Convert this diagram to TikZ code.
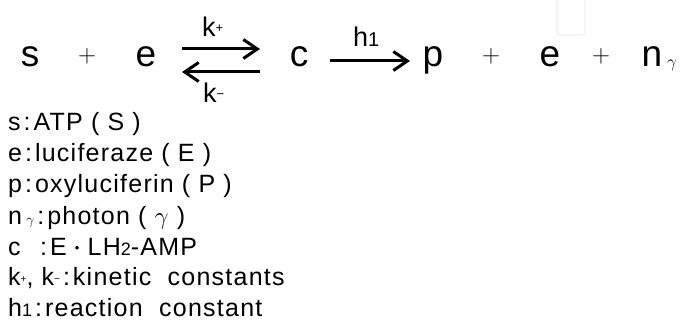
\documentclass[tikz,border=0pt]{standalone}
\usepackage{fontspec}
\setmainfont{Liberation Sans}
\newfontfamily\lgdfont[LetterSpace=5]{Liberation Sans}
\usetikzlibrary{arrows.meta}
\newcommand{\smallsub}[2]{{\fontsize{#1}{#1}\selectfont #2}}
\newcommand{\lcolon}{\hspace{3pt}:\hspace{3pt}}
\tikzset{
	sym/.style={font=\fontsize{37}{37}\selectfont, inner sep=0pt, anchor=base},
	plus/.style={font=\fontsize{27}{27}\selectfont, inner sep=0pt},
	rate/.style={font=\fontsize{27}{27}\selectfont, inner sep=0pt, anchor=base west},
	lgd/.style={font=\lgdfont\fontsize{25}{25}\selectfont, inner sep=0pt, anchor=base west},
	rarr/.style={-{Straight Barb[length=14pt,width=19pt]}, line width=3pt, line cap=butt}
}

\begin{document}
\begin{tikzpicture}[x=1pt, y=1pt]
	\useasboundingbox (0,0) rectangle (685,-323);
	% faint frame at the top
	\draw[gray!12, line width=1.2pt, rounded corners=3pt] (557,0) -- (557,-35) -- (585,-35) -- (585,0);
	% reaction
	\node[sym] (s1) at (30,-67) {s};
	\node[plus] (pl1) at (87,-56) {$+$};
	\node[sym] (e1) at (146,-67) {e};
	\node[sym] (c1) at (299,-67) {c};
	\node[sym] (p1) at (433,-67) {p};
	\node[plus] (pl2) at (491,-56) {$+$};
	\node[sym] (e2) at (550,-67) {e};
	\node[plus] (pl3) at (601,-56) {$+$};
	\node[sym] (n1) at (652,-67) {n};
	\node[inner sep=0pt, anchor=base west, font=\fontsize{19}{19}\selectfont] (g1) at (667,-68) {$\gamma$};
	\coordinate (fwA) at (182,-49);
	\coordinate (fwB) at (260,-49);
	\coordinate (bwA) at (260,-72);
	\coordinate (bwB) at (182,-72);
	\coordinate (hA) at (330,-61);
	\coordinate (hB) at (410,-61);
	\draw[rarr] (fwA) -- (fwB);
	\draw[rarr] (bwA) -- (bwB);
	\draw[rarr] (hA) -- (hB);
	\node[rate] (kp) at (202,-37) {k\raisebox{4pt}{\smallsub{13}{+}}};
	\node[rate] (km) at (203,-103) {k\raisebox{4pt}{\smallsub{13}{−}}};
	\node[rate] (h1) at (353,-47) {h\smallsub{20}{1}};
	% legend
	\node[lgd] (l1) at (8,-131) {s\lcolon ATP ( S )};
	\node[lgd] (l2) at (8,-162) {e\lcolon luciferaze ( E )};
	\node[lgd] (l3) at (8,-193) {p\lcolon oxyluciferin ( P )};
	\node[lgd] (l4) at (8,-224) {n\,\smallsub{15}{$\gamma$}\lcolon photon ( $\gamma$ )};
	\node[lgd] (l5) at (8,-255) {c\ \ \lcolon E \raisebox{3pt}{\smallsub{13}{•}} LH\smallsub{18}{2}-AMP};
	\node[lgd] (l6) at (8,-285) {k\raisebox{3pt}{\smallsub{10}{+}}, k\raisebox{3pt}{\smallsub{10}{−}}\lcolon kinetic\ \ constants};
	\node[lgd] (l7) at (8,-316) {h\smallsub{18}{1}\lcolon reaction\ \ constant};
\end{tikzpicture}
\end{document}
